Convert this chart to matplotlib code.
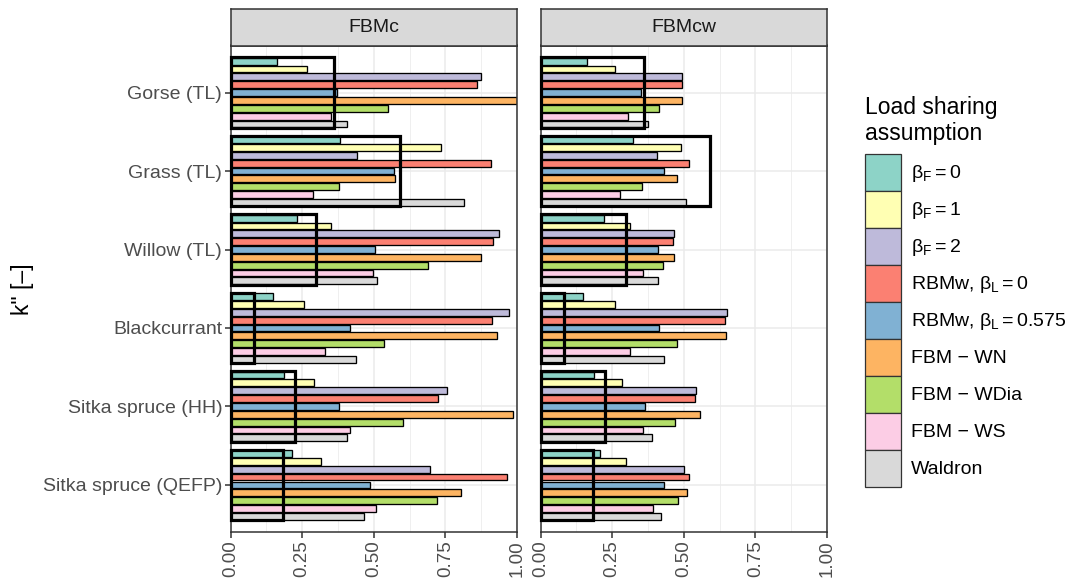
import matplotlib
matplotlib.use("Agg")
import matplotlib.pyplot as plt
from matplotlib.patches import Rectangle, Patch
import numpy as np

plt.rcParams['font.family'] = ['Liberation Sans', 'DejaVu Sans']
plt.rcParams['mathtext.fontset'] = 'custom'
plt.rcParams['mathtext.rm'] = 'Liberation Sans'
plt.rcParams['mathtext.it'] = 'Liberation Sans:italic'

# ---- data -------------------------------------------------------------
species = ["Gorse (TL)", "Grass (TL)", "Willow (TL)", "Blackcurrant",
           "Sitka spruce (HH)", "Sitka spruce (QEFP)"]
panels = ["FBMc", "FBMcw"]
series_labels = [r"$\mathregular{β_F = 0}$", r"$\mathregular{β_F = 1}$",
                 r"$\mathregular{β_F = 2}$", r"RBMw, $\mathregular{β_L = 0}$",
                 r"RBMw, $\mathregular{β_L = 0.575}$", "FBM − WN",
                 "FBM − WDia", "FBM − WS", "Waldron"]
series_colors = ["#8DD3C7", "#FFFFB3", "#BEBADA", "#FB8072", "#80B1D3",
                 "#FDB462", "#B3DE69", "#FCCDE5", "#D9D9D9"]

# FBMc panel, one list per load sharing assumption (species order as above)
fbmc_bf0 = [0.162, 0.383, 0.232, 0.148, 0.186, 0.214]
fbmc_bf1 = [0.268, 0.733, 0.350, 0.256, 0.290, 0.316]
fbmc_bf2 = [0.874, 0.442, 0.937, 0.972, 0.756, 0.697]
fbmc_rbmw0 = [0.862, 0.909, 0.916, 0.913, 0.724, 0.964]
fbmc_rbmw575 = [0.372, 0.571, 0.503, 0.417, 0.379, 0.486]
fbmc_wn = [1.000, 0.573, 0.873, 0.930, 0.985, 0.803]
fbmc_wdia = [0.550, 0.378, 0.689, 0.535, 0.603, 0.720]
fbmc_ws = [0.352, 0.287, 0.499, 0.329, 0.417, 0.509]
fbmc_waldron = [0.405, 0.814, 0.510, 0.439, 0.407, 0.466]

# FBMcw panel
fbmcw_bf0 = [0.162, 0.323, 0.220, 0.149, 0.186, 0.209]
fbmcw_bf1 = [0.260, 0.490, 0.313, 0.259, 0.284, 0.300]
fbmcw_bf2 = [0.493, 0.407, 0.466, 0.650, 0.543, 0.502]
fbmcw_rbmw0 = [0.493, 0.517, 0.464, 0.645, 0.538, 0.517]
fbmcw_rbmw575 = [0.351, 0.430, 0.409, 0.414, 0.365, 0.431]
fbmcw_wn = [0.495, 0.477, 0.466, 0.649, 0.558, 0.512]
fbmcw_wdia = [0.414, 0.355, 0.429, 0.476, 0.469, 0.480]
fbmcw_ws = [0.307, 0.277, 0.358, 0.312, 0.358, 0.393]
fbmcw_waldron = [0.376, 0.508, 0.411, 0.432, 0.389, 0.419]

# measured k'' per species (outlined box)
observed = [0.36, 0.59, 0.30, 0.083, 0.225, 0.183]

x_ticks = [0.00, 0.25, 0.50, 0.75, 1.00]
x_ticklabels = ["0.00", "0.25", "0.50", "0.75", "1.00"]

panel_data = [
    [fbmc_bf0, fbmc_bf1, fbmc_bf2, fbmc_rbmw0, fbmc_rbmw575,
     fbmc_wn, fbmc_wdia, fbmc_ws, fbmc_waldron],
    [fbmcw_bf0, fbmcw_bf1, fbmcw_bf2, fbmcw_rbmw0, fbmcw_rbmw575,
     fbmcw_wn, fbmcw_wdia, fbmcw_ws, fbmcw_waldron],
]

# ---- figure -----------------------------------------------------------
W, H = 1073, 583
fig = plt.figure(figsize=(W / 100, H / 100), dpi=100)


def px_axes(x0, y0, x1, y1):
    return fig.add_axes([x0 / W, 1 - y1 / H, (x1 - x0) / W, (y1 - y0) / H])


panel_px = [(230.5, 517), (540.5, 827)]
top, bottom, strip_top = 45.5, 532, 9

n = len(species)
ypos = np.arange(n)[::-1]          # first species at the top
nser = len(series_labels)
slot = 0.1
bar_h = 0.087

for p, (x0, x1) in enumerate(panel_px):
    ax = px_axes(x0, top, x1, bottom)
    ax.set_xlim(0, 1)
    ax.set_ylim(-0.6, n - 0.4)
    ax.set_axisbelow(True)

    # grid
    ax.set_xticks(x_ticks)
    ax.set_xticks([0.125, 0.375, 0.625, 0.875], minor=True)
    ax.grid(True, which='major', axis='both', color='#EBEBEB', lw=1.1)
    ax.grid(True, which='minor', axis='x', color='#EBEBEB', lw=0.55)
    ax.set_yticks(ypos)

    for j, vals in enumerate(panel_data[p]):
        offs = 0.4 - j * slot
        ax.barh(ypos + offs, vals, height=bar_h, color=series_colors[j],
                edgecolor='black', linewidth=0.95, zorder=2)

    for i, v in enumerate(observed):
        ax.add_patch(Rectangle((0, ypos[i] - 0.45), v, 0.9, fill=False,
                               edgecolor='black', lw=2.3, zorder=3,
                               clip_on=False))

    for s in ax.spines.values():
        s.set_color('#333333')
        s.set_linewidth(1.1)

    ax.set_xticklabels(x_ticklabels, rotation=90, fontsize=13.5,
                       color='#4D4D4D')
    ax.tick_params(axis='x', which='major', length=4, width=1.1,
                   color='#333333', pad=2)
    ax.tick_params(axis='x', which='minor', length=0)
    if p == 0:
        ax.set_yticklabels(species, fontsize=14, color='#4D4D4D')
        ax.tick_params(axis='y', length=4, width=1.1, color='#333333', pad=2)
    else:
        ax.tick_params(axis='y', length=0, labelleft=False)

    # facet strip
    sax = px_axes(x0, strip_top, x1, top)
    sax.set_facecolor('#D9D9D9')
    sax.set_xticks([])
    sax.set_yticks([])
    for s in sax.spines.values():
        s.set_color('#333333')
        s.set_linewidth(1.1)
    sax.text(0.5, 0.5, panels[p], ha='center', va='center', fontsize=14,
             color='#1A1A1A', transform=sax.transAxes)

fig.text(22 / W, 1 - 289 / H, 'k" [–]', rotation=90, ha='center',
         va='center', fontsize=16.5)

handles = [Patch(facecolor=c, edgecolor='#333333', linewidth=0.9)
           for c in series_colors]
leg = fig.legend(handles, series_labels, loc='upper left',
                 bbox_to_anchor=(855 / W, 1 - 86 / H), frameon=False,
                 fontsize=14, title="Load sharing\nassumption",
                 title_fontsize=16.5, handlelength=1.85, handleheight=2.55,
                 labelspacing=0.0, handletextpad=0.55, borderpad=0,
                 alignment='left')
leg._legend_box.sep = 6

fig.savefig("out.png", dpi=100)
